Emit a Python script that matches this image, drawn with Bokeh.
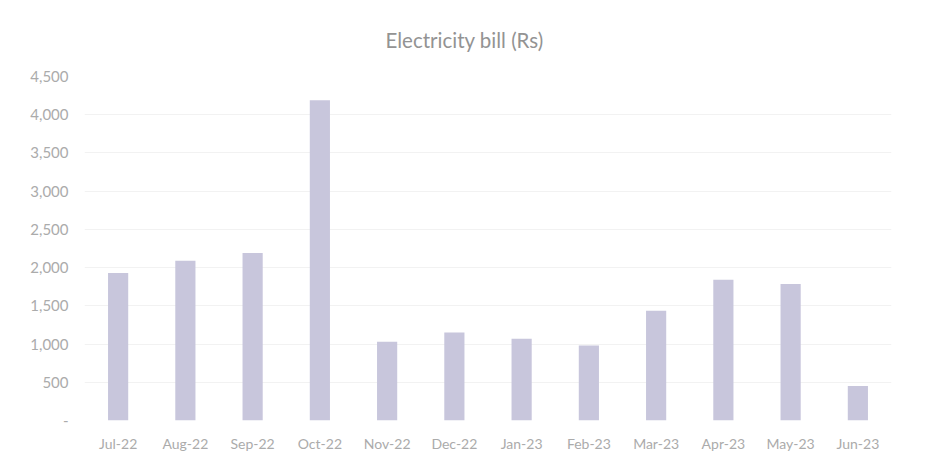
from bokeh.plotting import figure
from bokeh.embed import file_html
from bokeh.resources import INLINE
from bokeh.models import NumeralTickFormatter, FixedTicker, Range1d

months = ["Jul-22", "Aug-22", "Sep-22", "Oct-22", "Nov-22", "Dec-22",
          "Jan-23", "Feb-23", "Mar-23", "Apr-23", "May-23", "Jun-23"]
bill = [1930, 2090, 2190, 4190, 1030, 1150, 1070, 980, 1435, 1840, 1785, 450]
y_ticks = [0, 500, 1000, 1500, 2000, 2500, 3000, 3500, 4000, 4500]

FONT = "Lato"

p = figure(x_range=months, width=945, height=472, output_backend="svg",
           toolbar_location=None, title="Electricity bill (Rs)",
           min_border_left=84, min_border_right=54, min_border_top=76,
           min_border_bottom=52)
p.y_range = Range1d(0, 4500)

p.vbar(x=months, top=bill, width=0.3, fill_color="#c8c6dc",
       line_color=None)

p.title.align = "left"
p.title.offset = 301
p.title.text_font = FONT
p.title.text_font_size = "20.5px"
p.title.text_font_style = "normal"
p.title.text_color = "#939393"
p.title.standoff = 50

p.yaxis.ticker = FixedTicker(ticks=y_ticks)
p.yaxis.formatter = NumeralTickFormatter(format="0,0")
p.yaxis.major_label_overrides = {0: "-"}
for ax in (p.xaxis[0], p.yaxis[0]):
    ax.axis_line_color = None
    ax.major_tick_line_color = None
    ax.minor_tick_line_color = None
    ax.major_label_text_font = FONT
    ax.major_label_text_font_size = "14px"
    ax.major_label_text_color = "#ababab"
p.yaxis.major_label_text_font_size = "15px"
p.yaxis.major_label_standoff = 10
p.xaxis.major_label_standoff = 8

p.xgrid.grid_line_color = None
p.ygrid.grid_line_color = "#f2f2f2"
p.outline_line_color = None
p.x_range.range_padding = 0.0

open("out.html", "w").write(file_html(p, INLINE))
